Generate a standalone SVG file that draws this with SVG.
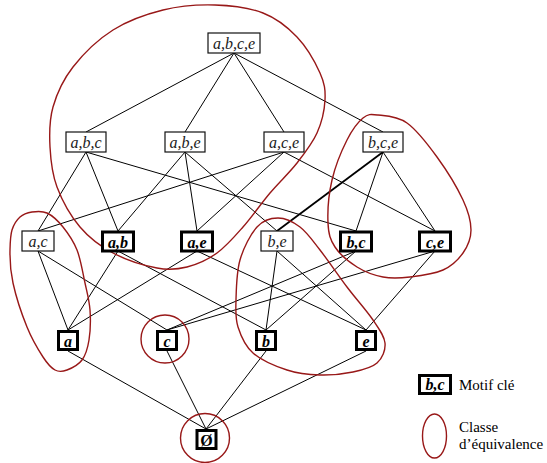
<svg xmlns="http://www.w3.org/2000/svg" width="547" height="463" viewBox="0 0 547 463">
<style>
  .n rect { fill: #fff; stroke: #111; stroke-width: 1.2; }
  .k rect { fill: #fff; stroke: #000; stroke-width: 3; }
  .n text { font-family: "Liberation Serif", "Times New Roman", serif; font-style: italic; font-size: 16px; fill: #1a1a1a; text-anchor: middle; }
  .k text { font-family: "Liberation Serif", "Times New Roman", serif; font-style: italic; font-weight: bold; font-size: 16px; fill: #000; text-anchor: middle; }
  .edges line { stroke: #000; stroke-width: 1; }
  .edges line.thick { stroke-width: 1.8; }
  .cls { fill: none; stroke: #981818; stroke-width: 1.4; }
  .lbl { font-family: "Liberation Serif", "Times New Roman", serif; font-size: 15px; fill: #000; }
</style>
<rect width="547" height="463" fill="#fff"/>

<g id="connectors" class="edges">
  <line x1="234" y1="53" x2="86" y2="132"/>
  <line x1="234" y1="53" x2="185" y2="132"/>
  <line x1="234" y1="53" x2="284" y2="132"/>
  <line x1="234" y1="53" x2="383" y2="132"/>
  <line x1="86" y1="152" x2="118" y2="231"/>
  <line x1="86" y1="152" x2="38" y2="231"/>
  <line x1="86" y1="152" x2="356" y2="231"/>
  <line x1="185" y1="152" x2="118" y2="231"/>
  <line x1="185" y1="152" x2="197" y2="231"/>
  <line x1="185" y1="152" x2="277" y2="231"/>
  <line x1="284" y1="152" x2="38" y2="231"/>
  <line x1="284" y1="152" x2="197" y2="231"/>
  <line x1="284" y1="152" x2="435" y2="231"/>
  <line x1="383" y1="152" x2="356" y2="231"/>
  <line class="thick" x1="383" y1="152" x2="277" y2="231"/>
  <line x1="383" y1="152" x2="435" y2="231"/>
  <line x1="118" y1="251" x2="68" y2="330"/>
  <line x1="118" y1="251" x2="266" y2="330"/>
  <line x1="38" y1="251" x2="68" y2="330"/>
  <line x1="38" y1="251" x2="167" y2="330"/>
  <line x1="197" y1="251" x2="68" y2="330"/>
  <line x1="197" y1="251" x2="366" y2="330"/>
  <line x1="356" y1="251" x2="266" y2="330"/>
  <line x1="356" y1="251" x2="167" y2="330"/>
  <line x1="277" y1="251" x2="266" y2="330"/>
  <line x1="277" y1="251" x2="366" y2="330"/>
  <line x1="435" y1="251" x2="167" y2="330"/>
  <line x1="435" y1="251" x2="366" y2="330"/>
  <line x1="68" y1="351" x2="206" y2="429"/>
  <line x1="167" y1="351" x2="206" y2="429"/>
  <line x1="266" y1="351" x2="206" y2="429"/>
  <line x1="366" y1="351" x2="206" y2="429"/>
</g>

<g id="classes">
  <path id="class-abce" class="cls" d="M215,5 C231.7,5.5 249.3,7.7 263,13 C276.7,18.3 287.5,27 297,37 C306.5,47 315.3,62.5 320,73 C324.7,83.5 325.5,90 325,100 C324.5,110 321.7,122.5 317,133 C312.3,143.5 304.8,153 297,163 C289.2,173 279,182.3 270,193 C261,203.7 251.8,217 243,227 C234.2,237 226.3,246.3 217,253 C207.7,259.7 197,264.5 187,267 C177,269.5 169.3,270.3 157,268 C144.7,265.7 125.8,259.8 113,253 C100.2,246.2 89.3,238 80,227 C70.7,216 62,200.3 57,187 C52,173.7 50.7,160.3 50,147 C49.3,133.7 49.2,120.3 53,107 C56.8,93.7 63,79.8 73,67 C83,54.2 98,39.5 113,30 C128,20.5 146,14.2 163,10 C180,5.8 198.3,4.5 215,5 Z"/>
  <path id="class-bce" class="cls" d="M378,115 C385.3,115.8 397.2,116 407,123 C416.8,130 427.7,144.2 437,157 C446.3,169.8 457.3,187.8 463,200 C468.7,212.2 471,221.2 471,230 C471,238.8 467.7,246.3 463,253 C458.3,259.7 451.8,266 443,270 C434.2,274 420,275.8 410,277 C400,278.2 391.8,278.7 383,277 C374.2,275.3 365,272 357,267 C349,262 339.8,254.3 335,247 C330.2,239.7 328.5,234.2 328,223 C327.5,211.8 328.8,193.8 332,180 C335.2,166.2 341.8,150.3 347,140 C352.2,129.7 357.8,122.2 363,118 C368.2,113.8 370.7,114.2 378,115 Z"/>
  <path id="class-be" class="cls" d="M278,218 C285.2,218 293,221.7 300,227 C307,232.3 312.2,240 320,250 C327.8,260 338.2,275.3 347,287 C355.8,298.7 366.7,310.7 373,320 C379.3,329.3 384.3,335.8 385,343 C385.7,350.2 382.3,358.2 377,363 C371.7,367.8 362.5,370 353,372 C343.5,374 331,375.3 320,375 C309,374.7 298.2,373.7 287,370 C275.8,366.3 261.2,360.2 253,353 C244.8,345.8 240.8,335.8 238,327 C235.2,318.2 235.7,311.2 236,300 C236.3,288.8 236.5,272.2 240,260 C243.5,247.8 250.7,234 257,227 C263.3,220 270.8,218 278,218 Z"/>
  <path id="class-ac" class="cls" d="M32,212 C36.5,211.3 41.8,210.5 47,213 C52.2,215.5 58,220.8 63,227 C68,233.2 73.3,240.7 77,250 C80.7,259.3 82.8,273 85,283 C87.2,293 89.3,300.5 90,310 C90.7,319.5 90.3,331.7 89,340 C87.7,348.3 85.7,355 82,360 C78.3,365 71.5,368.3 67,370 C62.5,371.7 59,372.2 55,370 C51,367.8 47.7,364.2 43,357 C38.3,349.8 32,339.3 27,327 C22,314.7 15.8,295.8 13,283 C10.2,270.2 9.8,258.8 10,250 C10.2,241.2 10.3,235.5 12,230 C13.7,224.5 16.7,220 20,217 C23.3,214 27.5,212.7 32,212 Z"/>
  <circle id="class-c" class="cls" cx="165" cy="339" r="24"/>
  <circle id="class-empty" class="cls" cx="205" cy="438" r="24.5"/>
</g>

<g id="node-abce" class="n"><rect x="208" y="33" width="52" height="20"/><text x="234" y="48.5">a,b,c,e</text></g>
<g id="node-abc" class="n"><rect x="66" y="132" width="40" height="20"/><text x="86" y="147.5">a,b,c</text></g>
<g id="node-abe" class="n"><rect x="165" y="132" width="40" height="20"/><text x="185" y="147.5">a,b,e</text></g>
<g id="node-ace" class="n"><rect x="264" y="132" width="40" height="20"/><text x="284" y="147.5">a,c,e</text></g>
<g id="node-bce" class="n"><rect x="363" y="132" width="40" height="20"/><text x="383" y="147.5">b,c,e</text></g>

<g id="node-ac" class="n"><rect x="22" y="231" width="32" height="20"/><text x="38" y="246.5">a,c</text></g>
<g id="node-ab" class="k"><rect x="102.5" y="232" width="31" height="19"/><text x="118" y="247.5">a,b</text></g>
<g id="node-ae" class="k"><rect x="181.5" y="232" width="31" height="19"/><text x="197" y="247.5">a,e</text></g>
<g id="node-be" class="n"><rect x="261" y="231" width="32" height="20"/><text x="277" y="246.5">b,e</text></g>
<g id="node-bc" class="k"><rect x="340.5" y="232" width="31" height="19"/><text x="356" y="247.5">b,c</text></g>
<g id="node-ce" class="k"><rect x="419.5" y="232" width="31" height="19"/><text x="435" y="247.5">c,e</text></g>

<g id="node-a" class="k"><rect x="58.5" y="331.5" width="19" height="18"/><text x="68" y="346.5">a</text></g>
<g id="node-c" class="k"><rect x="157.5" y="331.5" width="19" height="18"/><text x="167" y="346.5">c</text></g>
<g id="node-b" class="k"><rect x="256.5" y="331.5" width="19" height="18"/><text x="266" y="346.5">b</text></g>
<g id="node-e" class="k"><rect x="356.5" y="331.5" width="19" height="18"/><text x="366" y="346.5">e</text></g>

<g id="node-empty" class="k"><rect x="197" y="430.5" width="19" height="18"/><text x="206.5" y="445.5" style="font-style:normal">Ø</text></g>

<g id="legend">
  <g id="legend-key" class="k"><rect x="419.5" y="375.5" width="31" height="18"/><text x="435" y="390">b,c</text></g>
  <text class="lbl" x="459" y="390">Motif clé</text>
  <ellipse class="cls" cx="434.5" cy="436" rx="12" ry="22"/>
  <text class="lbl" x="459" y="432">Classe</text>
  <text class="lbl" x="459" y="449">d’équivalence</text>
</g>
</svg>
